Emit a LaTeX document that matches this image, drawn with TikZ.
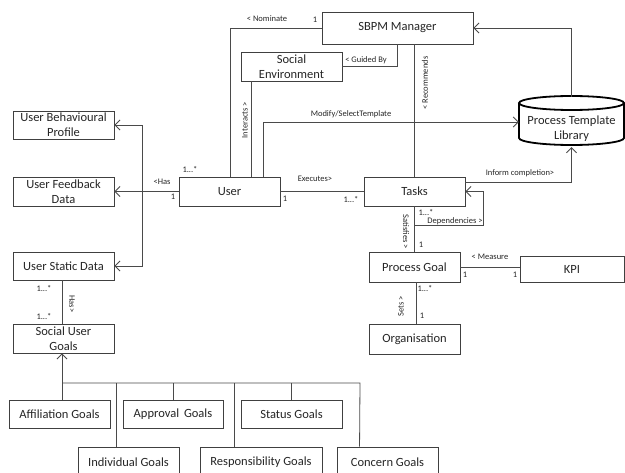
\documentclass[tikz,border=0pt]{standalone}
\usepackage{fontspec}
\setmainfont{Carlito}
\usetikzlibrary{arrows.meta}
\definecolor{ink}{HTML}{262626}
\definecolor{edge}{HTML}{404040}
\definecolor{wire}{HTML}{4A4A4A}
\begin{document}
\begin{tikzpicture}[x=1pt,y=-1pt,
  box/.style={draw=edge,line width=0.9pt,fill=white,text=ink,align=center,inner sep=0pt,
    font=\fontsize{12.5}{15}\selectfont},
  ln/.style={draw=wire,line width=0.8pt},
  arr/.style={ln,-{Straight Barb[length=5pt,width=10pt]}},
  lbl/.style={text=ink,inner sep=0pt,font=\fontsize{8.5}{10}\selectfont},
  cyl/.style={draw=black,line width=1.8pt}]
\useasboundingbox (0,0) rectangle (625,473);
% boxes
\node[box,minimum width=151pt,minimum height=32pt] (sbpm) at (397.5,28) {SBPM Manager};
\node[box,minimum width=101pt,minimum height=29pt] (soc) at (291.5,66.5) {Social\\Environment};
\node[box,minimum width=101pt,minimum height=28pt] (ubp) at (63.5,125) {User Behavioural\\Profile};
\node[box,minimum width=101pt,minimum height=29pt] (ufd) at (63.5,191.5) {User Feedback\\Data};
\node[box,minimum width=101pt,minimum height=28pt] (usd) at (63.5,266) {User Static Data};
\node[box,minimum width=101pt,minimum height=29pt] (sug) at (63.5,338.5) {Social User\\Goals};
\node[box,minimum width=101pt,minimum height=29pt] (user) at (229.5,191.5) {User};
\node[box,minimum width=101pt,minimum height=29pt] (tasks) at (414.5,191.5) {Tasks};
\node[box,minimum width=91pt,minimum height=30pt] (pg) at (414.5,267) {Process Goal};
\node[box,minimum width=91pt,minimum height=30pt] (org) at (414.5,339) {Organisation};
\node[box,minimum width=104pt,minimum height=26pt] (kpi) at (572,269) {KPI};
\node[box,minimum width=101pt,minimum height=28pt] (aff) at (59.5,414) {Affiliation Goals};
\node[box,minimum width=100pt,minimum height=28pt] (appr) at (173,414) {Approval\, Goals};
\node[box,minimum width=101pt,minimum height=28pt] (stat) at (291.5,414) {Status Goals};
\node[box,minimum width=101pt,minimum height=30pt] (indiv) at (128.5,462) {Individual Goals};
\node[box,minimum width=122pt,minimum height=30pt] (resp) at (261,462) {Responsibility Goals};
\node[box,minimum width=101pt,minimum height=30pt] (conc) at (387.5,462) {Concern Goals};
% cylinder
\draw[cyl,fill=white] (519,103) -- (519,138) arc[start angle=180,end angle=0,x radius=52.5,y radius=7] -- (624,103);
\draw[cyl] (571.5,103) ellipse[x radius=52.5,y radius=7];
\node[inner sep=0pt,minimum width=105pt,minimum height=50pt] (lib) at (571.5,122) {};
\node[text=ink,align=center,inner sep=0pt,font=\fontsize{12.5}{15}\selectfont] (libtxt) at (571.5,128.5) {Process Template\\Library};
% connectors (top)
\draw[ln] (sbpm.west) -| ([xshift=52pt]user.north west);
\draw[ln] ([xshift=11pt]soc.south west) -- ([xshift=73pt]user.north west);
\draw[arr] ([xshift=85pt]user.north west) |- (lib.west);
\draw[ln] ([xshift=76pt]sbpm.south west) |- (soc.east);
\draw[ln] ([xshift=17pt]sbpm.south) -- (tasks.north);
\draw[arr] (lib.north) |- (sbpm.east);
\draw[arr] ([yshift=9.5pt]tasks.east) -| (lib.south);
\draw[ln] (user.east) -- (tasks.west);
\draw[arr] (tasks.south) -- ++(0,19) -| ([xshift=18pt]tasks.east) -- (tasks.east);
\draw[ln] (tasks.south) -- (pg.north);
\draw[ln] (pg.east) -- (kpi.west |- pg.east);
\draw[ln] ([xshift=1.5pt]pg.south) -- ([xshift=1.5pt]org.north);
% left side
\draw[arr] (user.west) -- (ufd.east);
\draw[arr] ([xshift=-36pt]user.west) |- (ubp.east);
\draw[arr] ([xshift=-36pt]user.west) |- (usd.east);
\draw[ln] ([xshift=-1.5pt]usd.south) -- ([xshift=-1.5pt]sug.north);
% goals tree
\coordinate (bL) at (62,383);
\coordinate (bR) at (360,383);
\coordinate (iN) at ([xshift=39pt]indiv.north west);
\coordinate (rN) at ([xshift=35pt]resp.north west);
\coordinate (cN) at ([xshift=23pt]conc.north west);
\draw[arr] (aff.north -| bL) -- (sug.south -| bL);
\draw[ln] (bL) -- (bR) -- (cN);
\draw[ln] (appr.north) -- (appr.north |- bL);
\draw[ln] (stat.north) -- (stat.north |- bL);
\draw[ln] (iN) -- (iN |- bL);
\draw[ln] (rN) -- (rN |- bL);
% labels
\node[lbl] (tNom) at (267,19) {< Nominate};
\node[lbl] (tNom1) at (315,20) {1};
\node[lbl] (tGuid) at (366,60) {< Guided By};
\node[lbl,rotate=90] (tRec) at (425,83) {< Recommends};
\node[lbl,rotate=90] (tInt) at (245,120) {Interacts >};
\node[lbl] (tMod) at (351,114) {Modify/SelectTemplate};
\node[lbl] (tU1) at (190,170) {1...*};
\node[lbl] (tHas) at (162,182) {<Has};
\node[lbl] (tU2) at (173,197) {1};
\node[lbl] (tExe) at (315,179) {Executes>};
\node[lbl] (tE1) at (285,199) {1};
\node[lbl] (tE2) at (351,200) {1...*};
\node[lbl] (tInf) at (520,173) {Inform completion>};
\node[lbl] (tD1) at (426,213) {1...*};
\node[lbl] (tDep) at (455,221) {Dependencies >};
\node[lbl,rotate=-90] (tSat) at (406,232) {Satisfies >};
\node[lbl] (tS1) at (421,245) {1};
\node[lbl] (tMea) at (490,257) {< Measure};
\node[lbl] (tM1) at (465,275) {1};
\node[lbl] (tM2) at (515,275) {1};
\node[lbl] (tP1) at (425,289) {1...*};
\node[lbl] (tP2) at (422,316) {1};
\node[lbl,rotate=90] (tSets) at (401,306) {Sets >};
\node[lbl] (tH1) at (44,289) {1...*};
\node[lbl] (tH2) at (44,317) {1...*};
\node[lbl,rotate=-90] (tHas2) at (72,304) {Has>};
\end{tikzpicture}
\end{document}
